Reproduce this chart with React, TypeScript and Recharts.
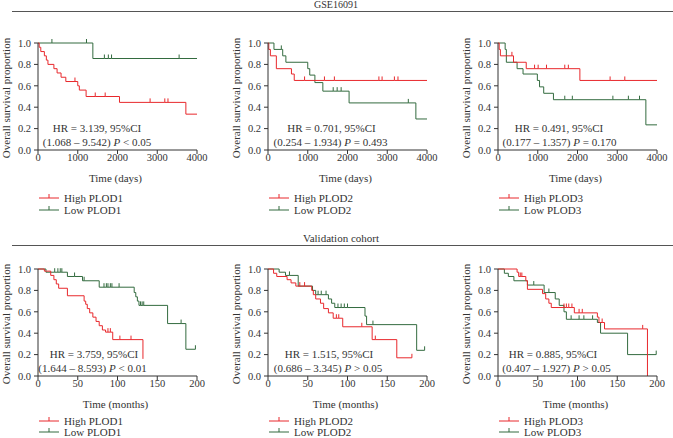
import React from "react";
import { LineChart, Line, XAxis, YAxis } from "recharts";

// [time, survival, censored]
type Pt = [number, number, number];

const dayTicks = [0, 1000, 2000, 3000, 4000];
const monthTicks = [0, 50, 100, 150, 200];
const survTicks = [0, 0.2, 0.4, 0.6, 0.8, 1];

const gseHigh1: Pt[] = [
  [0, 1, 0], [30, 0.96, 0], [70, 0.92, 0], [160, 0.88, 0], [210, 0.84, 0], [250, 0.8, 0],
  [400, 0.76, 0], [480, 0.72, 0], [580, 0.68, 0], [700, 0.64, 0], [930, 0.64, 1],
  [1000, 0.6, 0], [1040, 0.56, 0], [1210, 0.5, 0], [1440, 0.5, 1], [1690, 0.5, 1],
  [2050, 0.445, 0], [2820, 0.445, 1], [3190, 0.445, 1], [3270, 0.445, 1],
  [3720, 0.335, 0], [4000, 0.335, 0],
];
const gseLow1: Pt[] = [
  [0, 1, 0], [350, 1, 1], [1220, 1, 1], [1380, 0.855, 0], [1670, 0.855, 1],
  [1770, 0.855, 1], [1850, 0.855, 1], [3550, 0.855, 1], [4000, 0.855, 0],
];
const gseHigh2: Pt[] = [
  [0, 1, 0], [20, 0.94, 0], [60, 0.88, 0], [210, 0.76, 0], [590, 0.71, 0], [660, 0.65, 0],
  [920, 0.65, 1], [1420, 0.65, 1], [1670, 0.65, 1], [2790, 0.65, 1], [2870, 0.65, 1],
  [3180, 0.65, 1], [3270, 0.65, 1], [4000, 0.65, 0],
];
const gseLow2: Pt[] = [
  [0, 1, 0], [150, 0.94, 0], [335, 0.94, 1], [370, 0.88, 0], [450, 0.82, 0], [1000, 0.76, 0],
  [1050, 0.7, 0], [1180, 0.63, 0], [1380, 0.55, 0], [1640, 0.55, 1], [1740, 0.55, 1],
  [1840, 0.55, 1], [2040, 0.44, 0], [3530, 0.44, 1], [3720, 0.29, 0], [4000, 0.29, 0],
];
const gseHigh3: Pt[] = [
  [0, 1, 0], [30, 0.94, 0], [60, 0.88, 0], [350, 0.88, 1], [390, 0.82, 0], [710, 0.76, 0],
  [920, 0.76, 1], [1010, 0.76, 1], [1220, 0.76, 1], [1680, 0.76, 1], [1770, 0.76, 1],
  [2060, 0.65, 0], [2820, 0.65, 1], [3190, 0.65, 1], [4000, 0.65, 0],
];
const gseLow3: Pt[] = [
  [0, 1, 0], [180, 0.94, 0], [210, 0.82, 0], [480, 0.76, 0], [630, 0.71, 0], [990, 0.65, 0],
  [1045, 0.59, 0], [1150, 0.53, 0], [1395, 0.47, 0], [1680, 0.47, 1], [1870, 0.47, 1],
  [2890, 0.47, 1], [3280, 0.47, 1], [3560, 0.47, 1], [3720, 0.235, 0], [4000, 0.235, 0],
];

const valHigh1: Pt[] = [
  [0, 1, 0], [8, 0.98, 0], [16, 0.94, 0], [20, 0.9, 0], [23, 0.86, 0], [26, 0.82, 0],
  [37, 0.75, 0], [58, 0.7, 0], [60, 0.67, 0], [62, 0.63, 0], [65, 0.59, 0], [69, 0.55, 0],
  [73, 0.51, 0], [77, 0.47, 0], [81, 0.43, 0], [85, 0.41, 0], [88, 0.41, 1], [91, 0.41, 1],
  [94, 0.34, 0], [103, 0.34, 1], [117, 0.34, 1], [132, 0.16, 0],
];
const valLow1: Pt[] = [
  [0, 1, 0], [10, 0.97, 0], [21, 0.97, 1], [25, 0.97, 1], [28, 0.97, 1], [30, 0.97, 1],
  [37, 0.93, 0], [46, 0.93, 1], [56, 0.89, 0], [58, 0.89, 1], [77, 0.83, 0], [83, 0.83, 1],
  [86, 0.83, 1], [88, 0.83, 1], [91, 0.83, 1], [93, 0.83, 1], [102, 0.83, 1],
  [121, 0.78, 0], [123, 0.74, 0], [125, 0.7, 0], [127, 0.66, 0], [129, 0.66, 1],
  [131, 0.66, 1], [133, 0.66, 1], [163, 0.49, 0], [180, 0.49, 1], [186, 0.25, 0],
  [198, 0.25, 1],
];
const valHigh2: Pt[] = [
  [0, 1, 0], [7, 0.96, 0], [11, 0.93, 0], [24, 0.9, 0], [29, 0.87, 0], [35, 0.84, 0],
  [40, 0.84, 1], [46, 0.84, 1], [55, 0.8, 0], [57, 0.76, 0], [60, 0.72, 0], [66, 0.68, 0],
  [70, 0.63, 0], [76, 0.59, 0], [82, 0.54, 0], [86, 0.54, 1], [89, 0.54, 1], [94, 0.46, 0],
  [118, 0.46, 1], [131, 0.34, 0], [135, 0.34, 1], [162, 0.17, 0], [181, 0.17, 1],
];
const valLow2: Pt[] = [
  [0, 1, 0], [14, 0.97, 0], [22, 0.94, 0], [27, 0.94, 1], [38, 0.84, 0], [56, 0.8, 0],
  [60, 0.76, 0], [63, 0.76, 1], [67, 0.76, 1], [73, 0.76, 1], [76, 0.72, 0], [80, 0.68, 0],
  [84, 0.64, 0], [88, 0.64, 1], [92, 0.64, 1], [96, 0.64, 1], [100, 0.64, 1],
  [122, 0.56, 0], [124, 0.48, 0], [132, 0.48, 1], [187, 0.24, 0], [197, 0.24, 1],
];
const valHigh3: Pt[] = [
  [0, 1, 0], [24, 0.97, 0], [26, 0.93, 0], [28, 0.93, 1], [30, 0.93, 1], [35, 0.89, 0],
  [37, 0.81, 0], [56, 0.77, 0], [60, 0.72, 0], [64, 0.68, 0], [67, 0.64, 0], [83, 0.64, 1],
  [86, 0.64, 1], [89, 0.64, 1], [93, 0.64, 1], [96, 0.59, 0], [102, 0.59, 1], [106, 0.59, 1],
  [125, 0.55, 0], [127, 0.5, 0], [131, 0.5, 1], [134, 0.44, 0], [182, 0.44, 1], [188, 0, 0],
];
const valLow3: Pt[] = [
  [0, 1, 0], [8, 0.96, 0], [13, 0.93, 0], [20, 0.89, 0], [37, 0.85, 0], [45, 0.85, 1],
  [58, 0.78, 0], [64, 0.78, 1], [72, 0.72, 0], [77, 0.66, 0], [83, 0.6, 0], [86, 0.53, 0],
  [92, 0.53, 1], [102, 0.53, 1], [108, 0.53, 1], [119, 0.53, 1], [125, 0.5, 0],
  [129, 0.4, 0], [163, 0.2, 0], [199, 0.2, 1],
];

const RED = "#e8282c";
const GREEN = "#336b3f";
const INK = "#333";
const FONT = "'Liberation Serif', 'Times New Roman', serif";

const toRows = (pts: Pt[]) => pts.map(([t, s, c]) => ({ t, s, c }));

const censorDot = (color: string) => (p: any) => {
  if (!p.payload || !p.payload.c) return <g key={p.index} />;
  return (
    <line
      key={p.index}
      x1={p.cx}
      x2={p.cx}
      y1={p.cy}
      y2={p.cy - 4}
      stroke={color}
      strokeWidth={1}
    />
  );
};

const Txt = ({
  x,
  y,
  size = 11,
  rotate = false,
  anchor = "middle",
  children,
}: {
  x: number;
  y: number;
  size?: number;
  rotate?: boolean;
  anchor?: "middle" | "start";
  children: React.ReactNode;
}) => (
  <div
    style={{
      position: "absolute",
      left: x,
      top: y,
      transform:
        (anchor === "middle" ? "translate(-50%, -50%)" : "translate(0, -50%)") +
        (rotate ? " rotate(-90deg)" : ""),
      whiteSpace: "nowrap",
      fontSize: size,
      lineHeight: 1,
      color: INK,
      fontFamily: FONT,
    }}
  >
    {children}
  </div>
);

const LegendRow = ({ x, y, color, label }: { x: number; y: number; color: string; label: string }) => (
  <>
    <svg
      width={22}
      height={8}
      style={{ position: "absolute", left: x, top: y - 5 }}
    >
      <line x1={0} x2={20} y1={5} y2={5} stroke={color} strokeWidth={1} />
      <line x1={10} x2={10} y1={5} y2={1} stroke={color} strokeWidth={1} />
    </svg>
    <Txt x={x + 25} y={y} anchor="start">
      {label}
    </Txt>
  </>
);

const PLOT_W = 159;
const PLOT_H = 107;

interface PanelProps {
  left: number; // plot left (page px)
  top: number; // plot top (page px)
  high: Pt[];
  low: Pt[];
  gene: string;
  maxX: number;
  ticks: number[];
  unit: string;
  hr: string;
  ci: string;
  p: string;
  hrX: number;
  ciX: number;
  hrY: number;
  legY: number;
  legGap: number;
}

const Panel = ({ left, top, high, low, gene, maxX, ticks, unit, hr, ci, p, hrX, ciX, hrY, legY, legGap }: PanelProps) => {
  const mTop = 5;
  const yW = 38;
  const xH = 36;
  const mRight = 14;
  return (
    <>
      <div style={{ position: "absolute", left: left - yW, top: top - mTop }}>
        <LineChart
          width={yW + PLOT_W + mRight}
          height={mTop + PLOT_H + xH}
          margin={{ top: mTop, right: mRight, left: 0, bottom: 0 }}
          style={{ fontFamily: FONT }}
        >
          <XAxis
            type="number"
            dataKey="t"
            domain={[0, maxX]}
            ticks={ticks}
            allowDataOverflow
            height={xH}
            tickSize={4}
            tickMargin={0}
            tick={{ fill: INK, fontSize: 10.5 }}
            axisLine={{ stroke: INK }}
            tickLine={{ stroke: INK }}
          />
          <YAxis
            type="number"
            domain={[0, 1]}
            ticks={survTicks}
            tickFormatter={(v: number) => v.toFixed(1)}
            width={yW}
            tickSize={4}
            tickMargin={3}
            tick={{ fill: INK, fontSize: 10.5 }}
            axisLine={{ stroke: INK }}
            tickLine={{ stroke: INK }}
          />
          <Line
            data={toRows(low)}
            dataKey="s"
            type="stepAfter"
            stroke={GREEN}
            strokeWidth={1}
            dot={censorDot(GREEN)}
            activeDot={false}
            isAnimationActive={false}
          />
          <Line
            data={toRows(high)}
            dataKey="s"
            type="stepAfter"
            stroke={RED}
            strokeWidth={1}
            dot={censorDot(RED)}
            activeDot={false}
            isAnimationActive={false}
          />
        </LineChart>
      </div>
      <Txt x={left - 32} y={top + PLOT_H / 2 + 1} rotate>
        Overall survival proportion
      </Txt>
      <Txt x={left + PLOT_W / 2 - 2} y={top + PLOT_H + 27.5}>
        {unit}
      </Txt>
      <Txt x={left + hrX} y={hrY}>
        {hr}
      </Txt>
      <Txt x={left + ciX} y={hrY + 14}>
        {ci} <i>P</i> {p}
      </Txt>
      <LegendRow x={left + 1} y={legY} color={RED} label={`High ${gene}`} />
      <LegendRow x={left + 1} y={legY + legGap} color={GREEN} label={`Low ${gene}`} />
    </>
  );
};

const App = () => (
  <div
    style={{
      position: "absolute",
      left: 0,
      top: 0,
      width: 673,
      height: 438,
      background: "#fff",
      overflow: "hidden",
      fontFamily: FONT,
    }}
  >
    <Txt x={336} y={4.5} size={10}>
      GSE16091
    </Txt>
    <div style={{ position: "absolute", left: 12, top: 11, width: 661, height: 1, background: "#555" }} />
    <Txt x={341} y={238} size={11}>
      Validation cohort
    </Txt>
    <div style={{ position: "absolute", left: 12, top: 245, width: 661, height: 1, background: "#555" }} />

    <Panel left={38} top={43} high={gseHigh1} low={gseLow1} gene="PLOD1" maxX={4000} ticks={dayTicks}
      unit="Time (days)" hr="HR = 3.139, 95%CI" ci="(1.068 – 9.542)" p="< 0.05" hrX={59} ciX={59} hrY={128}
      legY={197.5} legGap={12} />
    <Panel left={268} top={43} high={gseHigh2} low={gseLow2} gene="PLOD2" maxX={4000} ticks={dayTicks}
      unit="Time (days)" hr="HR = 0.701, 95%CI" ci="(0.254 – 1.934)" p="= 0.493" hrX={63.5} ciX={62.5} hrY={128}
      legY={197.5} legGap={12} />
    <Panel left={498} top={43} high={gseHigh3} low={gseLow3} gene="PLOD3" maxX={4000} ticks={dayTicks}
      unit="Time (days)" hr="HR = 0.491, 95%CI" ci="(0.177 – 1.357)" p="= 0.170" hrX={61} ciX={61.5} hrY={128}
      legY={197.5} legGap={12} />

    <Panel left={38} top={269} high={valHigh1} low={valLow1} gene="PLOD1" maxX={200} ticks={monthTicks}
      unit="Time (months)" hr="HR = 3.759, 95%CI" ci="(1.644 – 8.593)" p="< 0.01" hrX={56} ciX={54.5} hrY={353.5}
      legY={421} legGap={11.3} />
    <Panel left={268} top={269} high={valHigh2} low={valLow2} gene="PLOD2" maxX={200} ticks={monthTicks}
      unit="Time (months)" hr="HR = 1.515, 95%CI" ci="(0.686 – 3.345)" p="> 0.05" hrX={61} ciX={60} hrY={353.5}
      legY={421} legGap={11.3} />
    <Panel left={498} top={269} high={valHigh3} low={valLow3} gene="PLOD3" maxX={200} ticks={monthTicks}
      unit="Time (months)" hr="HR = 0.885, 95%CI" ci="(0.407 – 1.927)" p="> 0.05" hrX={55} ciX={58.5} hrY={353.5}
      legY={421} legGap={11.3} />
  </div>
);

export default App;
